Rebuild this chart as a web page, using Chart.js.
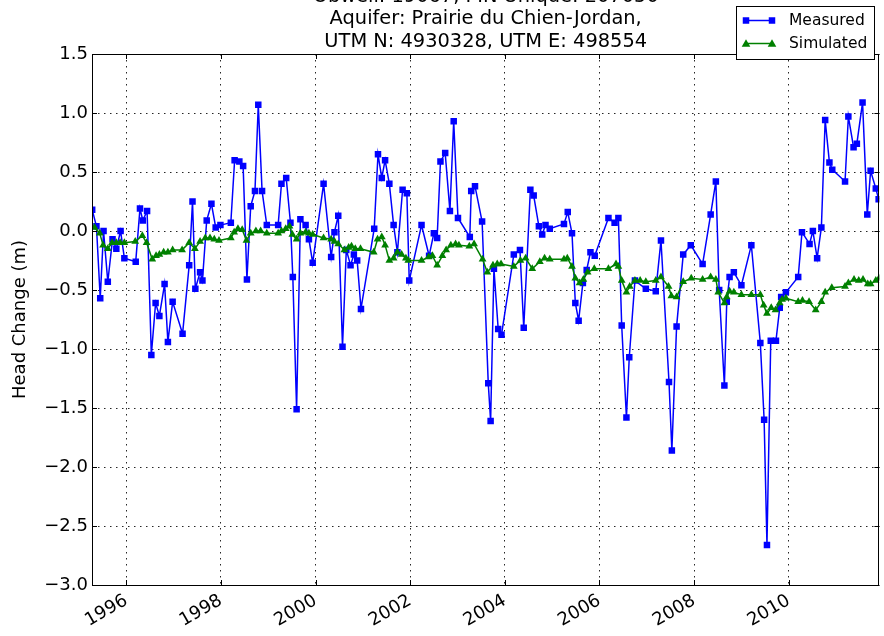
<!DOCTYPE html>
<html>
<head>
<meta charset="utf-8">
<title>Head Change</title>
<script src="https://cdn.jsdelivr.net/npm/chart.js@4.4.0/dist/chart.umd.min.js"></script>
<style>
  body { margin: 0; background: #fff; }
  #wrap { width: 884px; height: 636px; }
</style>
</head>
<body>
<div id="wrap"><canvas id="headChart" width="884" height="636"></canvas></div>
<script>
// values (decimal years, metres)
const titleLines = ['Obwell: 19067, PIN Unique: 207050', 'Aquifer: Prairie du Chien-Jordan,', 'UTM N: 4930328, UTM E: 498554'];
const yLabel = 'Head Change (m)';
const yearTicks = [1996, 1998, 2000, 2002, 2004, 2006, 2008, 2010];
const xMin = 1995.276, xMax = 2011.916;

const measuredYears = [
  1995.28, 1995.37, 1995.45, 1995.52, 1995.61, 1995.71, 1995.79, 1995.88, 1995.96, 1996.20,
  1996.29, 1996.35, 1996.44, 1996.53, 1996.62, 1996.70, 1996.81, 1996.88, 1996.98, 1997.19,
  1997.33, 1997.40, 1997.46, 1997.56, 1997.61, 1997.70, 1997.80, 1997.89, 1997.99, 1998.21,
  1998.29, 1998.39, 1998.47, 1998.55, 1998.63, 1998.72, 1998.79, 1998.87, 1998.97, 1999.21,
  1999.28, 1999.38, 1999.47, 1999.52, 1999.60, 1999.68, 1999.79, 1999.86, 1999.94, 2000.17,
  2000.33, 2000.40, 2000.48, 2000.57, 2000.65, 2000.74, 2000.81, 2000.88, 2000.96, 2001.24,
  2001.32, 2001.40, 2001.47, 2001.56, 2001.65, 2001.73, 2001.84, 2001.93, 2001.98, 2002.24,
  2002.40, 2002.50, 2002.57, 2002.64, 2002.74, 2002.84, 2002.92, 2003.01, 2003.26, 2003.29,
  2003.37, 2003.52, 2003.65, 2003.70, 2003.77, 2003.86, 2003.93, 2004.19, 2004.32, 2004.40,
  2004.54, 2004.61, 2004.72, 2004.79, 2004.86, 2004.95, 2005.25, 2005.33, 2005.42, 2005.49,
  2005.56, 2005.65, 2005.73, 2005.81, 2005.90, 2006.19, 2006.32, 2006.40, 2006.47, 2006.57,
  2006.63, 2006.75, 2006.98, 2007.19, 2007.30, 2007.47, 2007.53, 2007.63, 2007.77, 2007.93,
  2008.18, 2008.35, 2008.46, 2008.53, 2008.64, 2008.69, 2008.75, 2008.84, 2009.00, 2009.21,
  2009.40, 2009.48, 2009.54, 2009.62, 2009.73, 2009.81, 2009.84, 2009.94, 2010.20, 2010.28,
  2010.44, 2010.51, 2010.60, 2010.69, 2010.77, 2010.86, 2010.92, 2011.19, 2011.26, 2011.37,
  2011.44, 2011.56, 2011.66, 2011.73, 2011.84, 2011.90
];
const measuredHead = [
  0.18, 0.04, -0.57, 0.00, -0.43, -0.07, -0.15, 0.00, -0.23, -0.26,
  0.19, 0.09, 0.17, -1.05, -0.61, -0.72, -0.45, -0.94, -0.60, -0.87,
  -0.29, 0.25, -0.49, -0.35, -0.42, 0.09, 0.23, 0.03, 0.05, 0.07,
  0.60, 0.59, 0.55, -0.41, 0.21, 0.34, 1.07, 0.34, 0.05, 0.05,
  0.40, 0.45, 0.07, -0.39, -1.51, 0.10, 0.05, -0.07, -0.27, 0.40,
  -0.22, -0.01, 0.13, -0.98, -0.16, -0.29, -0.20, -0.25, -0.66, 0.02,
  0.65, 0.45, 0.60, 0.40, 0.05, -0.18, 0.35, 0.32, -0.42, 0.05,
  -0.21, -0.02, -0.06, 0.59, 0.66, 0.17, 0.93, 0.11, -0.05, 0.34,
  0.38, 0.08, -1.29, -1.61, -0.32, -0.83, -0.88, -0.20, -0.16, -0.82,
  0.35, 0.30, 0.04, -0.03, 0.05, 0.02, 0.06, 0.16, -0.02, -0.61,
  -0.76, -0.44, -0.33, -0.18, -0.21, 0.11, 0.07, 0.11, -0.80, -1.58,
  -1.07, -0.42, -0.49, -0.51, -0.08, -1.28, -1.86, -0.81, -0.20, -0.12,
  -0.28, 0.14, 0.42, -0.50, -1.31, -0.60, -0.39, -0.35, -0.46, -0.12,
  -0.95, -1.60, -2.66, -0.93, -0.93, -0.65, -0.56, -0.52, -0.39, -0.01,
  -0.11, 0.00, -0.23, 0.03, 0.94, 0.58, 0.52, 0.42, 0.97, 0.71,
  0.74, 1.09, 0.14, 0.51, 0.36, 0.27
];

const simulatedYears = [
  1995.33, 1995.44, 1995.51, 1995.61, 1995.70, 1995.79, 1995.87, 1995.96, 1996.19, 1996.34,
  1996.43, 1996.55, 1996.63, 1996.70, 1996.79, 1996.88, 1996.98, 1997.18, 1997.33, 1997.45,
  1997.56, 1997.67, 1997.77, 1997.86, 1997.96, 1998.21, 1998.28, 1998.36, 1998.45, 1998.54,
  1998.63, 1998.74, 1998.84, 1998.97, 1999.21, 1999.28, 1999.37, 1999.45, 1999.51, 1999.60,
  1999.68, 1999.79, 1999.86, 1999.94, 2000.17, 2000.33, 2000.40, 2000.48, 2000.61, 2000.70,
  2000.76, 2000.84, 2000.95, 2001.23, 2001.31, 2001.40, 2001.47, 2001.56, 2001.65, 2001.73,
  2001.82, 2001.91, 2001.96, 2002.24, 2002.39, 2002.47, 2002.57, 2002.68, 2002.76, 2002.86,
  2002.96, 2003.03, 2003.25, 2003.35, 2003.53, 2003.63, 2003.75, 2003.84, 2003.92, 2004.19,
  2004.33, 2004.44, 2004.58, 2004.74, 2004.84, 2004.95, 2005.25, 2005.32, 2005.42, 2005.49,
  2005.58, 2005.66, 2005.75, 2005.89, 2006.19, 2006.35, 2006.40, 2006.47, 2006.57, 2006.64,
  2006.75, 2006.86, 2006.98, 2007.19, 2007.30, 2007.46, 2007.52, 2007.63, 2007.77, 2007.94,
  2008.18, 2008.35, 2008.46, 2008.51, 2008.64, 2008.69, 2008.75, 2008.84, 2009.00, 2009.21,
  2009.40, 2009.47, 2009.54, 2009.63, 2009.72, 2009.81, 2009.86, 2009.94, 2010.20, 2010.29,
  2010.43, 2010.57, 2010.69, 2010.77, 2010.91, 2011.19, 2011.26, 2011.38, 2011.48, 2011.57,
  2011.67, 2011.73, 2011.84, 2011.91
];
const simulatedHead = [
  0.03, -0.02, -0.12, -0.15, -0.10, -0.10, -0.10, -0.10, -0.09, -0.04,
  -0.10, -0.24, -0.21, -0.20, -0.18, -0.18, -0.16, -0.16, -0.10, -0.15,
  -0.09, -0.06, -0.06, -0.07, -0.08, -0.06, -0.01, 0.02, 0.01, -0.08,
  -0.02, 0.00, 0.00, -0.02, -0.02, 0.00, 0.02, 0.04, -0.03, -0.07,
  -0.02, -0.01, -0.02, -0.03, -0.06, -0.07, -0.09, -0.11, -0.16, -0.14,
  -0.13, -0.15, -0.15, -0.18, -0.07, -0.05, -0.12, -0.25, -0.23, -0.18,
  -0.20, -0.23, -0.25, -0.25, -0.22, -0.21, -0.29, -0.21, -0.16, -0.12,
  -0.11, -0.12, -0.13, -0.11, -0.24, -0.35, -0.29, -0.28, -0.28, -0.30,
  -0.25, -0.23, -0.32, -0.26, -0.23, -0.24, -0.24, -0.23, -0.30, -0.40,
  -0.44, -0.41, -0.35, -0.32, -0.32, -0.28, -0.30, -0.42, -0.52, -0.47,
  -0.42, -0.42, -0.43, -0.42, -0.39, -0.47, -0.55, -0.56, -0.43, -0.40,
  -0.41, -0.39, -0.41, -0.52, -0.61, -0.56, -0.51, -0.52, -0.54, -0.54,
  -0.54, -0.63, -0.70, -0.65, -0.67, -0.61, -0.58, -0.57, -0.60, -0.59,
  -0.60, -0.67, -0.60, -0.52, -0.48, -0.47, -0.44, -0.41, -0.42, -0.41,
  -0.45, -0.45, -0.42, -0.40
];

const toPoints = (xs, ys) => xs.map((x, i) => ({ x: x, y: ys[i] }));
const fmtMinus = v => v.toFixed(1).replace('-', '\u2212');
const FONT = "'DejaVu Sans', sans-serif";

// frame, inward ticks, titles, y label and legend
const decorations = {
  id: 'decorations',
  afterDraw(chart) {
    const ctx = chart.ctx;
    const a = chart.chartArea;
    const xs = chart.scales.x, ys = chart.scales.y;
    ctx.save();
    ctx.strokeStyle = '#000';
    ctx.lineWidth = 1;
    ctx.beginPath();
    yearTicks.forEach(t => {
      const px = Math.round(xs.getPixelForValue(t)) + 0.5;
      ctx.moveTo(px, a.bottom); ctx.lineTo(px, a.bottom - 5);
      ctx.moveTo(px, a.top); ctx.lineTo(px, a.top + 5);
    });
    ys.ticks.forEach(t => {
      const py = Math.round(ys.getPixelForValue(t.value)) + 0.5;
      ctx.moveTo(a.left, py); ctx.lineTo(a.left + 5, py);
      ctx.moveTo(a.right, py); ctx.lineTo(a.right - 5, py);
    });
    ctx.stroke();
    ctx.strokeRect(Math.round(a.left) + 0.5, Math.round(a.top) + 0.5,
      Math.round(a.right - a.left) - 1, Math.round(a.bottom - a.top));

    // title
    ctx.fillStyle = '#000';
    ctx.font = '19.4px ' + FONT;
    ctx.textAlign = 'center';
    ctx.textBaseline = 'alphabetic';
    const cx = (a.left + a.right) / 2;
    titleLines.forEach((line, i) => ctx.fillText(line, cx, 1.8 + i * 22.4));

    // y axis label
    ctx.save();
    ctx.font = '18px ' + FONT;
    ctx.textBaseline = 'middle';
    ctx.translate(20, (a.top + a.bottom) / 2);
    ctx.rotate(-Math.PI / 2);
    ctx.fillText(yLabel, 0, 0);
    ctx.restore();

    // legend
    const lx = 736.5, ly = 6.5, lw = 138, lh = 53;
    ctx.fillStyle = '#fff';
    ctx.fillRect(lx, ly, lw, lh);
    ctx.strokeStyle = '#000';
    ctx.strokeRect(lx, ly, lw, lh);
    const entries = [
      { label: 'Measured', color: '#0000ff', shape: 'rect', y: 20.5 },
      { label: 'Simulated', color: '#008000', shape: 'tri', y: 43.5 }
    ];
    entries.forEach(e => {
      ctx.strokeStyle = e.color;
      ctx.fillStyle = e.color;
      ctx.lineWidth = 1.5;
      ctx.beginPath();
      ctx.moveTo(746, e.y); ctx.lineTo(772, e.y);
      ctx.stroke();
      [746, 772].forEach(px => {
        ctx.beginPath();
        if (e.shape === 'rect') {
          ctx.rect(px - 3.25, e.y - 3.25, 6.5, 6.5);
        } else {
          ctx.moveTo(px, e.y - 4.3); ctx.lineTo(px + 4.3, e.y + 3.2); ctx.lineTo(px - 4.3, e.y + 3.2);
          ctx.closePath();
        }
        ctx.fill();
      });
      ctx.fillStyle = '#000';
      ctx.font = '15.5px ' + FONT;
      ctx.textAlign = 'left';
      ctx.textBaseline = 'middle';
      ctx.fillText(e.label, 789, e.y);
    });
    ctx.restore();
  }
};

const gridStyle = { color: 'rgba(0,0,0,0.85)', lineWidth: 1, drawTicks: false };

new Chart(document.getElementById('headChart'), {
  type: 'line',
  data: {
    datasets: [{
      label: 'Measured',
      data: toPoints(measuredYears, measuredHead),
      borderColor: '#0000ff',
      backgroundColor: '#0000ff',
      borderWidth: 1.5,
      pointStyle: 'rect',
      pointRadius: 4.6,
      pointBorderWidth: 0,
      tension: 0,
      order: 1
    }, {
      label: 'Simulated',
      data: toPoints(simulatedYears, simulatedHead),
      borderColor: '#008000',
      backgroundColor: '#008000',
      borderWidth: 1.5,
      pointStyle: 'triangle',
      pointRadius: 4.5,
      pointBorderWidth: 0,
      tension: 0,
      order: 0
    }]
  },
  options: {
    responsive: false,
    animation: false,
    events: [],
    layout: { padding: { top: 54, right: 1, left: 0, bottom: 0 } },
    scales: {
      x: {
        type: 'linear',
        min: xMin,
        max: xMax,
        afterBuildTicks: scale => { scale.ticks = yearTicks.map(v => ({ value: v })); },
        afterFit: scale => { scale.height = 51; },
        grid: gridStyle,
        border: { display: false, dash: [1.5, 4.5] },
        ticks: {
          minRotation: 30,
          maxRotation: 30,
          padding: 5,
          color: '#000',
          font: { family: FONT, size: 18 },
          callback: v => String(v)
        }
      },
      y: {
        min: -3.0,
        max: 1.5,
        afterFit: scale => { scale.width = 92; },
        grid: gridStyle,
        border: { display: false, dash: [1.5, 4.5] },
        ticks: {
          stepSize: 0.5,
          padding: 4,
          color: '#000',
          font: { family: FONT, size: 18 },
          callback: v => fmtMinus(v)
        }
      }
    },
    plugins: {
      legend: { display: false },
      title: { display: false },
      tooltip: { enabled: false }
    }
  },
  plugins: [decorations]
});
</script>
</body>
</html>
